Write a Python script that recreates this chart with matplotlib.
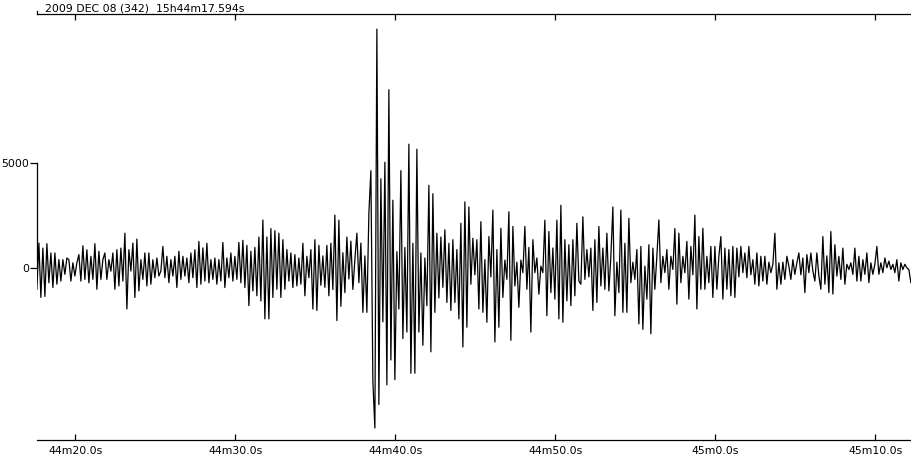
import matplotlib
matplotlib.use("Agg")
import matplotlib.pyplot as plt
import numpy as np

# first sample time in seconds after 15h44m, and sample step
start_sec = 17.594
dt = 0.125

# counts, one row = one second of trace
trace = [
    -990, 1210, -1380, 970, -1330, 1180, -680, 740,
    -910, 740, -750, 420, -600, 420, -280, 500,
    420, -600, 270, -360, 270, 660, -600, 1080,
    -520, 890, -680, 580, -520, 1180, -990, 820,
    -520, 420, 740, -520, 420, -130, 740, -990,
    895, -830, 970, -600, 1680, -1930, 895, -125,
    1210, -1380, 1400, -1070, 420, -520, 740, -830,
    740, -750, 420, -440, 500, -360, -125, 1050,
    -440, 580, -675, 420, -360, 580, -910, 820,
    -520, 580, -360, 500, -680, 740, -440, 890,
    -910, 1290, -750, 980, -600, 1200, -680, 420,
    -520, 500, -750, 420, -600, 1240, -910, 500,
    -440, 740, -600, 580, -520, 1240, -680, 1340,
    -910, 1100, -1770, 820, -1070, 1000, -1300, 1500,
    -1550, 2310, -2400, 1500, -2400, 1900, -1380, 1800,
    -990, 1680, -1380, 1370, -990, 900, -600, 740,
    -910, 660, -830, 500, -750, 1200, -1300, 580,
    -440, 900, -1930, 1370, -2000, 1100, -800, 600,
    -900, 1100, -1300, 1200, -1000, 2540, -2480, 2300,
    -1800, 750, -1150, 1500, -500, 1300, -1000, 420,
    1680, -675, 1210, -2090, 600, -2090, 2620, 4660,
    -5380, -7600, 11400, -6480, 4270, -2540, 5060, -5540,
    8510, -4360, 3250, -5300, 800, -1930, 4660, -3340,
    1000, -3030, 5920, -4990, 1200, -4990, 5680, -3030,
    740, -3660, 500, -1770, 3960, -3970, 3560, -2090,
    1680, -1400, 1500, -900, 1840, -1620, 1200, -2000,
    1370, -1620, 900, -2400, 2150, -3740, 3170, -2800,
    2930, -750, 1440, -300, 1370, -1930, 2230, -2090,
    420, -2560, 1520, -400, 2780, -3500, 900, -2800,
    1915, -1380, 400, -520, 2700, -3420, 2000, -830,
    300, -1850, 400, -200, 2000, -990, 1000, -3030,
    1370, -200, 500, -1225, 110, -200, 2300, -2250,
    1760, -1150, 975, -1460, 2300, -2400, 3010, -2560,
    1370, -1540, 1130, -1770, 1370, -1300, 2150, -600,
    -750, 2460, -520, 900, -400, 970, -2000, 1370,
    -1620, 2000, -830, 970, -990, 1680, -1070, 580,
    2930, -2250, 300, -1150, 2780, -2090, 1200, -2090,
    2390, -675, 300, -520, 900, -2640, 1050, -2900,
    110, -1460, 1130, -3110, 970, -990, 600, 2310,
    -675, 580, -200, 900, -990, 580, -50, 1900,
    -1700, 1680, -675, 580, -200, 1290, -1460, 1050,
    -300, 2540, -1930, 1520, -990, 1915, -990, 580,
    -675, 1050, -1380, 1050, -990, 580, 1520, -1460,
    970, -990, 900, -1300, 1050, -1380, 970, -400,
    1050, -200, 740, -440, 1050, -300, 420, -750,
    740, -830, 580, -600, 580, -750, 300, -200,
    200, 1680, -990, 270, -750, 300, -520, 580,
    110, -520, 420, -280, 270, 740, -300, 500,
    -1150, 660, -200, 740, -125, -600, 740, -360,
    -990, 1520, -750, 600, -1150, 1760, -1220, 1130,
    -360, 580, -520, 970, -750, 200, -50, 270,
    -280, 970, -600, 580, -600, 420, -280, 740,
    -675, 270, -280, 200, 1050, -280, 270, -200,
    500, 30, 350, -50, 200, -200, 420, -600,
    270, -50, 200, 30, -50, -675,
]

tick_secs = [20, 30, 40, 50, 60, 70]
tick_labels = ["44m20.0s", "44m30.0s", "44m40.0s", "44m50.0s", "45m0.0s", "45m10.0s"]
amp_ticks = [0, 5000]
amp_labels = ["0", "5000"]
header = "2009 DEC 08 (342)  15h44m17.594s"

W, H = 912, 459
fig = plt.figure(figsize=(W / 100, H / 100), dpi=100)
ax = fig.add_axes([37.3 / W, 19 / H, (W - 37.3) / W, 426 / H])

t = start_sec + dt * np.arange(len(trace))
ax.plot(t, trace, color="black", lw=0.9)

ax.set_xlim(17.62, 72.29)
ax.set_ylim(-8170, 12120)

# frame: top and bottom lines, short left axis, nothing on the right
ax.spines["right"].set_visible(False)
ax.spines["left"].set_bounds(0, 5000)
for s in ["top", "bottom", "left"]:
    ax.spines[s].set_linewidth(0.9)

ax.set_xticks(tick_secs)
ax.set_xticklabels(tick_labels)
ax.set_yticks(amp_ticks)
ax.set_yticklabels(amp_labels)
ax.tick_params(axis="x", direction="in", top=True, bottom=True, labeltop=False,
               length=4.5, width=0.9, pad=4, labelsize=7.8)
ax.tick_params(axis="y", direction="out", right=False, length=5, width=0.9,
               pad=1, labelsize=7.8)

# little mark at the start of the top line
ax.plot([0, 0], [1, 1 + 3 / 426], transform=ax.transAxes, color="black",
        lw=0.9, clip_on=False)

fig.text(45 / W, 1 - 11.5 / H, header, fontsize=7.8, ha="left", va="baseline")

fig.savefig("out.png", dpi=100)
